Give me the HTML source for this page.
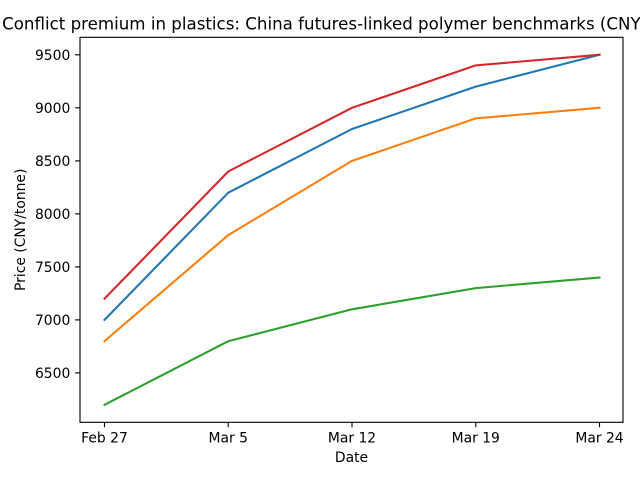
<!DOCTYPE html>
<html>
<head>
<meta charset="utf-8">
<style>
html,body{margin:0;padding:0;background:#fff;}
svg{display:block;}
text{font-family:"DejaVu Sans","Liberation Sans",sans-serif;fill:#000;}
</style>
</head>
<body>
<svg width="640" height="480" viewBox="0 0 640 480" xmlns="http://www.w3.org/2000/svg">
<rect x="0" y="0" width="640" height="480" fill="#fff"/>
<!-- title -->
<text x="351.5" y="29.5" font-size="16.67" text-anchor="middle">Conflict premium in plastics: China futures-linked polymer benchmarks (CNY/tonne)</text>

<!-- series -->
<g fill="none" stroke-width="2.08" stroke-linejoin="round" stroke-linecap="square">
<polyline stroke="#1f77b4" points="104.5,319.9 228.25,192.7 352,129.0 475.75,86.6 599.5,54.8"/>
<polyline stroke="#ff7f0e" points="104.5,341.2 228.25,235.1 352,160.9 475.75,118.4 599.5,107.8"/>
<polyline stroke="#2ca02c" points="104.5,404.8 228.25,341.2 352,309.3 475.75,288.1 599.5,277.5"/>
<polyline stroke="#d62728" points="104.5,298.7 228.25,171.5 352,107.8 475.75,65.4 599.5,54.8"/>
</g>

<!-- axes frame -->
<rect x="80" y="37.3" width="543" height="385" fill="none" stroke="#000" stroke-width="1.11"/>

<!-- y ticks -->
<g stroke="#000" stroke-width="1.11">
<line x1="75.1" y1="54.8" x2="80" y2="54.8"/>
<line x1="75.1" y1="107.8" x2="80" y2="107.8"/>
<line x1="75.1" y1="160.9" x2="80" y2="160.9"/>
<line x1="75.1" y1="213.9" x2="80" y2="213.9"/>
<line x1="75.1" y1="266.9" x2="80" y2="266.9"/>
<line x1="75.1" y1="319.9" x2="80" y2="319.9"/>
<line x1="75.1" y1="372.9" x2="80" y2="372.9"/>
</g>
<g font-size="13.89" text-anchor="end">
<text x="70.3" y="59.9">9500</text>
<text x="70.3" y="112.9">9000</text>
<text x="70.3" y="166.0">8500</text>
<text x="70.3" y="219.0">8000</text>
<text x="70.3" y="272.0">7500</text>
<text x="70.3" y="325.0">7000</text>
<text x="70.3" y="378.0">6500</text>
</g>

<!-- x ticks -->
<g stroke="#000" stroke-width="1.11">
<line x1="104.5" y1="422.3" x2="104.5" y2="427.2"/>
<line x1="228.25" y1="422.3" x2="228.25" y2="427.2"/>
<line x1="352" y1="422.3" x2="352" y2="427.2"/>
<line x1="475.75" y1="422.3" x2="475.75" y2="427.2"/>
<line x1="599.5" y1="422.3" x2="599.5" y2="427.2"/>
</g>
<g font-size="13.89" text-anchor="middle">
<text x="104.5" y="442.3">Feb 27</text>
<text x="228.25" y="442.3">Mar 5</text>
<text x="352" y="442.3">Mar 12</text>
<text x="475.75" y="442.3">Mar 19</text>
<text x="599.5" y="442.3">Mar 24</text>
</g>

<!-- axis labels -->
<text x="351.5" y="462" font-size="13.89" text-anchor="middle">Date</text>
<text x="0" y="0" font-size="13.89" text-anchor="middle" transform="translate(25.2,229.8) rotate(-90)">Price (CNY/tonne)</text>
</svg>
</body>
</html>
